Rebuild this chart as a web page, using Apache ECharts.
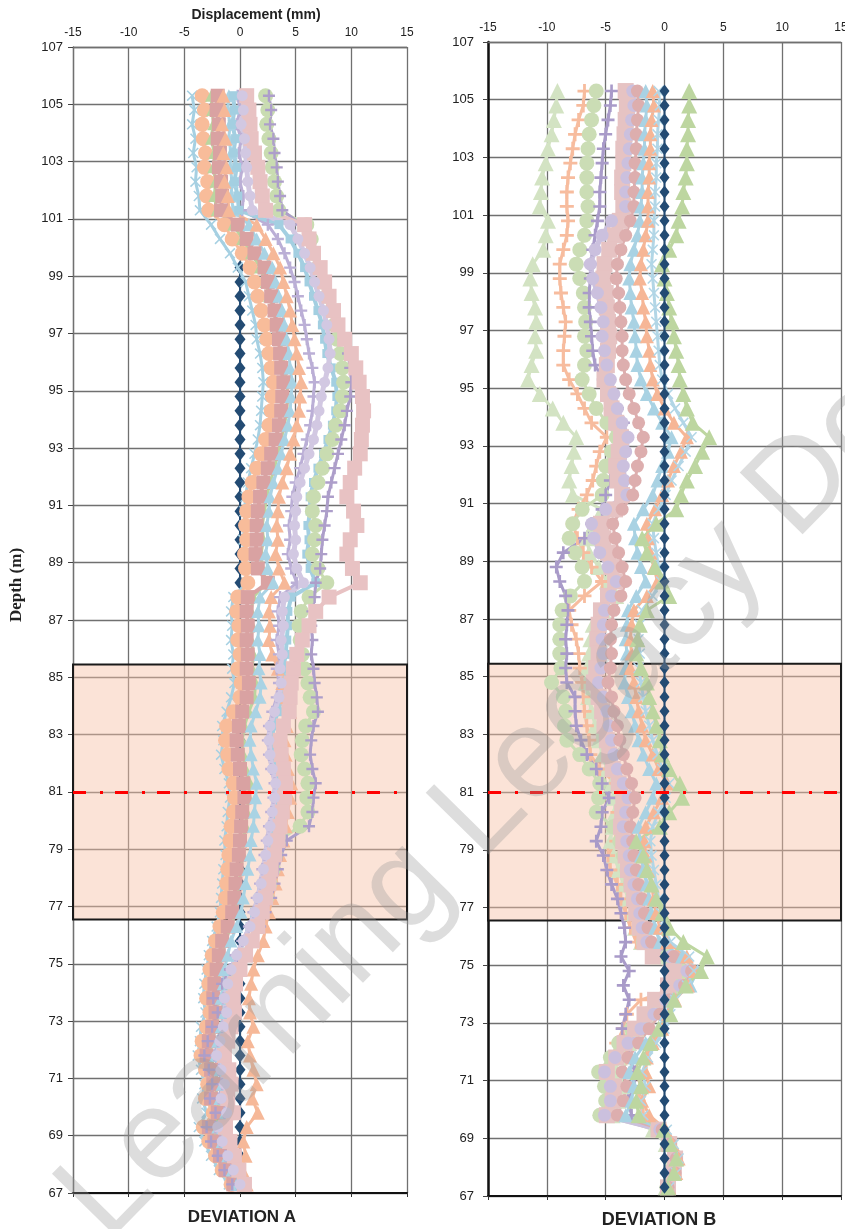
<!DOCTYPE html>
<html>
<head>
<meta charset="utf-8">
<script src="https://cdn.jsdelivr.net/npm/echarts@6/dist/echarts.min.js"></script>
<style>
  html, body { margin: 0; padding: 0; background: #ffffff; }
  #chart { width: 845px; height: 1229px; }
</style>
</head>
<body>
<div id="chart"></div>
<script>
// Survey depths (m), one reading every 0.5 m
const depths = [
  105.3, 104.8, 104.3, 103.8, 103.3, 102.8, 102.3, 101.8, 101.3, 100.8,
  100.3, 99.8, 99.3, 98.8, 98.3, 97.8, 97.3, 96.8, 96.3, 95.8,
  95.3, 94.8, 94.3, 93.8, 93.3, 92.8, 92.3, 91.8, 91.3, 90.8,
  90.3, 89.8, 89.3, 88.8, 88.3, 87.8, 87.3, 86.8, 86.3, 85.8,
  85.3, 84.8, 84.3, 83.8, 83.3, 82.8, 82.3, 81.8, 81.3, 80.8,
  80.3, 79.8, 79.3, 78.8, 78.3, 77.8, 77.3, 76.8, 76.3, 75.8,
  75.3, 74.8, 74.3, 73.8, 73.3, 72.8, 72.3, 71.8, 71.3, 70.8,
  70.3, 69.8, 69.3, 68.8, 68.3, 67.8, 67.3
];

const xTicks = [-15, -10, -5, 0, 5, 10, 15];
const depthTicks = [67, 69, 71, 73, 75, 77, 79, 81, 83, 85, 87, 89, 91, 93, 95, 97, 99, 101, 103, 105, 107];
const zoneTop = 85.45;
const zoneBottom = 76.55;
const targetDepth = 81;

// ---- Deviation A (displacement, mm) ----
const aBase = [
  null, null, null, null, null, null, null, null, null, null,
  null, null, 0, 0, 0, 0, 0, 0, 0, 0,
  0, 0, 0, 0, 0, 0, 0, 0, 0, 0,
  0, 0, 0, 0, 0, 0, 0, 0, 0, 0,
  0, 0, 0, 0, 0, 0, 0, 0, 0, 0,
  0, 0, 0, 0, 0, 0, 0, 0, 0, 0,
  0, 0, 0, 0, 0, 0, 0, 0, 0, 0,
  0, 0, 0, 0, 0, 0, 0
];
const aBlueCross = [
  -4.3, -4.1, -4.3, -4.0, -4.2, -3.9, -4.0, -3.7, -3.6, -2.6,
  -1.8, -0.9, -0.2, 0.5, 0.8, 1.1, 1.4, 1.5, 1.8, 2.0,
  2.1, 2.0, 1.9, 1.8, 1.6, 1.3, 1.0, 0.7, 0.5, 0.4,
  0.4, 0.3, 0.4, 0.5, 0.6, -0.6, -0.8, -0.7, -0.8, -0.6,
  -0.7, -0.5, -0.8, -1.2, -1.6, -1.5, -1.7, -1.4, -1.0, -0.9,
  -1.1, -1.2, -1.4, -1.3, -1.5, -1.6, -1.7, -1.8, -2.1, -2.5,
  -2.8, -3.0, -3.2, -3.3, -3.1, -3.5, -3.6, -3.8, -3.5, -3.2,
  -3.4, -3.0, -3.7, -3.2, -2.6, -1.9, -1.0
];
const aSalmonCircle = [
  -3.4, -3.2, -3.4, -3.3, -3.1, -3.2, -2.9, -3.0, -2.8, -1.4,
  -0.7, 0.2, 0.9, 1.3, 1.6, 1.9, 2.2, 2.4, 2.6, 2.8,
  3.0, 2.9, 2.8, 2.6, 2.3, 1.9, 1.5, 1.1, 0.8, 0.6,
  0.5, 0.6, 0.4, 0.5, 0.7, -0.2, -0.3, -0.1, -0.2, 0.0,
  -0.2, 0.1, 0.0, -0.6, -1.2, -1.3, -1.1, -1.0, -0.6, -0.5,
  -0.6, -0.8, -0.9, -1.0, -1.1, -1.2, -1.3, -1.5, -1.8, -2.2,
  -2.5, -2.7, -2.8, -3.0, -2.7, -3.0, -3.4, -3.5, -3.1, -2.9,
  -3.1, -2.4, -3.3, -2.8, -2.2, -1.6, -0.8
];
const aGreenTri = [
  -2.6, -2.5, -2.4, -2.6, -2.3, -2.4, -2.2, -2.3, -2.1, -0.6,
  0.2, 1.0, 1.8, 2.3, 2.6, 3.0, 3.3, 3.6, 3.8, 4.0,
  4.2, 4.3, 4.2, 4.0, 3.7, 3.4, 3.1, 2.7, 2.4, 2.2,
  2.0, 2.1, 1.9, 2.0, 2.4, 1.2, 1.0, 1.1, 1.0, 1.2,
  1.1, 1.4, 1.3, 0.8, 0.4, 0.2, 0.3, 0.5, 0.9, 0.8,
  0.6, 0.5, 0.3, 0.2, 0.1, -0.1, -0.2, -0.4, -0.8, -1.3,
  -1.6, -1.9, -2.0, -2.2, -1.9, -2.2, -2.5, -2.7, -2.2, -2.0,
  -2.3, -1.6, -2.5, -2.0, -1.5, -1.0, -0.5
];
const aRoseSquare = [
  -2.0, -2.1, -1.9, -2.0, -1.8, -1.9, -1.7, -1.6, -1.7, -0.2,
  0.6, 1.3, 2.2, 2.5, 2.8, 3.1, 3.3, 3.5, 3.6, 3.7,
  3.9, 3.8, 3.7, 3.5, 3.2, 2.8, 2.5, 2.1, 1.8, 1.6,
  1.5, 1.5, 1.4, 1.6, 2.5, 0.7, 0.6, 0.7, 0.6, 0.7,
  0.6, 0.8, 0.6, 0.2, -0.1, -0.3, -0.2, 0.0, 0.3, 0.4,
  0.2, 0.1, 0.0, -0.1, -0.3, -0.4, -0.5, -0.7, -1.1, -1.6,
  -1.9, -2.1, -2.3, -2.4, -2.2, -2.5, -2.8, -3.0, -2.6, -2.4,
  -2.6, -2.0, -2.8, -2.3, -1.8, -1.3, -0.6
];
const aBlueTri = [
  -1.0, -1.1, -0.9, -1.0, -0.8, -0.9, -0.7, -0.8, -0.6, 0.8,
  1.5, 2.2, 2.9, 3.2, 3.5, 3.8, 4.0, 4.2, 4.4, 4.5,
  4.7, 4.6, 4.5, 4.3, 4.0, 3.7, 3.4, 3.0, 2.7, 2.6,
  2.4, 2.5, 2.3, 2.5, 3.0, 1.8, 1.6, 1.7, 1.6, 1.8,
  1.7, 1.9, 1.8, 1.4, 1.0, 0.9, 1.0, 1.2, 1.5, 1.4,
  1.3, 1.2, 1.0, 0.9, 0.7, 0.5, 0.3, 0.1, -0.3, -0.8,
  -1.1, -1.4, -1.5, -1.7, -1.4, -1.7, -2.0, -2.2, -1.8, -1.6,
  -1.8, -1.3, -2.0, -1.6, -1.1, -0.7, -0.3
];
const aSalmonTri = [
  -1.5, -1.4, -1.6, -1.3, -1.5, -1.2, -1.4, -1.1, -1.0, 1.5,
  2.3, 3.0, 3.6, 3.9, 4.2, 4.5, 4.7, 4.9, 5.1, 5.3,
  5.5, 5.4, 5.3, 5.1, 4.8, 4.5, 4.2, 3.8, 3.5, 3.4,
  3.3, 3.4, 3.2, 3.5, 4.0, 2.8, 2.6, 2.7, 2.6, 2.9,
  3.4, 3.8, 4.2, 4.5, 4.2, 4.0, 4.1, 4.3, 4.6, 4.5,
  4.3, 4.1, 3.9, 3.6, 3.4, 3.2, 2.9, 2.6, 2.3, 2.1,
  1.6, 1.2, 1.0, 0.8, 0.9, 1.2, 0.7, 0.9, 1.2, 1.5,
  1.1, 1.6, 0.6, 0.3, 0.5, 0.2, 0.6
];
const aLavenderPlus = [
  -0.2, 0.0, -0.3, 0.1, -0.1, 0.2, 0.0, 0.3, 0.2, 2.5,
  3.4, 4.0, 4.5, 4.9, 5.2, 5.5, 5.8, 6.0, 6.2, 6.5,
  6.7, 6.6, 6.5, 6.3, 6.0, 5.7, 5.4, 5.0, 4.7, 4.6,
  4.4, 4.5, 4.3, 4.6, 5.1, 3.6, 3.4, 3.5, 3.3, 3.5,
  3.3, 3.5, 3.3, 2.9, 2.6, 2.5, 2.6, 2.8, 3.1, 3.0,
  2.8, 2.6, 2.4, 2.2, 2.0, 1.8, 1.5, 1.2, 0.8, 0.2,
  -0.4, -0.9, -1.2, -1.5, -1.3, -1.6, -2.0, -2.3, -1.9, -1.6,
  -1.9, -1.4, -2.2, -1.8, -1.3, -0.8, -0.2
];
const aBlueDash = [
  -0.6, -0.5, -0.7, -0.4, -0.6, -0.3, -0.5, -0.2, -0.1, 3.5,
  4.5, 5.2, 5.8, 6.2, 6.6, 7.0, 7.4, 7.6, 7.8, 8.2,
  8.6, 8.7, 8.6, 8.3, 7.9, 7.5, 7.0, 6.6, 6.3, 6.3,
  6.1, 6.2, 6.0, 6.3, 6.8, 4.6, 4.3, 4.3, 4.2, 4.1,
  3.9, 4.0, 3.8, 3.4, 3.0, 2.9, 3.0, 3.2, 3.5, 3.4,
  3.2, 3.0, 2.7, 2.5, 2.2, 2.0, 1.7, 1.3, 0.9, 0.4,
  -0.2, -0.7, -1.0, -1.2, -1.0, -1.3, -1.6, -1.9, -1.5, -1.2,
  -1.5, -1.0, -1.8, -1.4, -0.9, -0.5, 0.0
];
const aGreenCircle = [
  2.3, 2.5, 2.4, 2.6, 2.8, 2.9, 3.1, 3.3, 3.5, 6.0,
  6.4, 6.6, 7.0, 7.4, 7.8, 8.2, 8.5, 8.7, 9.0, 9.2,
  9.3, 9.2, 9.0, 8.6, 8.3, 7.8, 7.4, 7.0, 6.6, 6.5,
  6.8, 6.7, 6.5, 7.0, 7.8, 6.2, 5.5, 5.3, 5.4, 5.6,
  5.8, 6.1, 6.3, 6.6, 5.9, 5.6, 5.5, 5.8, 6.1, 6.0,
  6.1, 5.4, 3.5, 3.2, 3.0, 2.7, 2.4, 2.0, 1.6, 1.0,
  0.3, -0.3, -0.7, -0.9, -0.7, -1.0, -1.3, -1.6, -1.1, -0.9,
  -1.2, -0.6, -1.5, -1.1, -0.6, -0.2, 0.3
];
const aPurplePlus = [
  2.6, 2.8, 2.7, 3.0, 3.1, 3.3, 3.4, 3.6, 3.8, 5.5,
  6.0, 6.5, 7.2, 7.6, 8.0, 8.4, 8.8, 9.3, 9.7, 9.9,
  10.0, 9.9, 9.6, 9.4, 9.1, 8.8, 8.5, 8.2, 7.9, 7.8,
  7.6, 7.4, 7.3, 7.2, 6.8, 6.7, 6.5, 6.4, 6.5, 6.4,
  6.6, 6.7, 6.9, 7.0, 6.6, 6.4, 6.3, 6.5, 6.8, 6.6,
  6.5, 6.2, 4.2, 3.7, 3.4, 3.1, 2.8, 2.3, 1.8, 1.0,
  0.1, -0.9, -1.6, -2.4, -2.0, -2.5, -2.9, -3.2, -2.8, -2.5,
  -2.7, -2.2, -3.0, -2.6, -2.0, -1.4, -0.7
];
const aPinkSquare = [
  0.6, 0.8, 0.9, 1.0, 1.3, 1.6, 1.8, 2.0, 2.3, 5.8,
  6.2, 6.6, 7.2, 7.6, 8.0, 8.4, 8.8, 9.4, 10.0, 10.4,
  10.7, 11.0, 11.1, 11.0, 10.9, 10.8, 10.3, 9.9, 9.6, 10.2,
  10.5, 9.9, 9.6, 10.1, 10.8, 8.0, 6.8, 6.2, 5.6, 5.1,
  4.8, 4.6, 4.5, 4.4, 3.9, 3.6, 3.7, 3.9, 4.1, 4.0,
  3.8, 3.6, 3.4, 3.1, 2.8, 2.6, 2.3, 2.0, 1.6, 1.1,
  0.5, 0.0, -0.4, -0.6, -0.5, -0.8, -1.1, -1.4, -1.0, -0.8,
  -1.1, -0.6, -1.3, -0.9, -0.5, -0.1, 0.4
];
const aLilac = [
  0.2, 0.3, 0.1, 0.4, 0.5, 0.6, 0.7, 0.9, 1.1, 4.5,
  5.2, 5.8, 6.3, 6.7, 7.1, 7.5, 7.8, 8.0, 8.1, 7.9,
  7.6, 7.3, 7.1, 6.9, 6.6, 6.2, 5.8, 5.4, 5.1, 5.0,
  4.9, 5.0, 4.8, 5.1, 5.7, 4.0, 3.8, 3.9, 3.7, 3.8,
  3.6, 3.7, 3.5, 3.1, 2.7, 2.6, 2.7, 2.9, 3.2, 3.1,
  2.9, 2.7, 2.5, 2.3, 2.1, 1.9, 1.6, 1.3, 0.9, 0.3,
  -0.3, -0.8, -1.1, -1.4, -1.2, -1.5, -1.8, -2.1, -1.7, -1.4,
  -1.7, -1.2, -2.0, -1.6, -1.1, -0.6, 0.0
];

// ---- Deviation B (displacement, mm) ----
const bBase = [
  0, 0, 0, 0, 0, 0, 0, 0, 0, 0,
  0, 0, 0, 0, 0, 0, 0, 0, 0, 0,
  0, 0, 0, 0, 0, 0, 0, 0, 0, 0,
  0, 0, 0, 0, 0, 0, 0, 0, 0, 0,
  0, 0, 0, 0, 0, 0, 0, 0, 0, 0,
  0, 0, 0, 0, 0, 0, 0, 0, 0, 0,
  0, 0, 0, 0, 0, 0, 0, 0, 0, 0,
  0, 0, 0, 0, 0, 0, 0
];
const bPaleTri = [
  -9.1, -9.2, -9.4, -9.6, -9.9, -10.1, -10.4, -10.5, -10.6, -9.9,
  -10.1, -10.3, -11.2, -11.4, -11.3, -11.0, -10.9, -11.0, -10.9, -11.3,
  -11.6, -10.6, -9.5, -8.6, -7.5, -7.7, -7.9, -8.1, -7.8, -5.3,
  -6.0, -6.6, -6.4, -5.6, -4.9, -4.1, -5.2, -6.1, -6.3, -6.4,
  -6.6, -6.7, -6.5, -6.2, -5.9, -5.6, -5.3, -4.9, -4.5, -4.3,
  -4.2, -4.4, -4.6, -4.3, -3.9, -3.5, -3.1, -2.8, -2.5, -2.0,
  -0.5, 1.2, 0.5, -0.9, -1.6, -2.4, -3.0, -3.8, -4.2, -3.6,
  -3.9, -4.4, -1.0, 0.1, 0.6, 0.5, 0.1
];
const bSalmonPlus = [
  -6.8, -6.9, -7.3, -7.6, -7.8, -8.0, -8.2, -8.3, -8.3, -8.2,
  -8.3, -8.6, -8.9, -8.9, -8.8, -8.6, -8.4, -8.5, -8.6, -8.6,
  -8.1, -7.4, -6.8, -6.2, -4.9, -5.5, -5.8, -6.1, -6.6, -7.3,
  -7.8, -7.4, -6.9, -6.2, -5.3, -6.8, -8.1, -7.9, -7.5, -7.3,
  -7.2, -7.0, -6.9, -6.8, -6.6, -6.4, -6.3, -5.5, -4.1, -3.6,
  -4.0, -4.2, -4.1, -4.8, -4.6, -4.0, -3.7, -3.3, -2.9, -2.4,
  1.0, 2.2, 1.6, -2.0, -3.2, -3.5, -4.1, -3.2, -2.4, -2.0,
  -2.2, -1.8, -0.4, 0.4, 0.9, 0.7, 0.2
];
const bGreenCircle = [
  -5.8, -6.0, -6.2, -6.4, -6.5, -6.6, -6.6, -6.6, -6.5, -6.6,
  -6.8, -7.2, -7.5, -7.2, -6.9, -6.8, -6.7, -6.8, -6.6, -6.8,
  -7.0, -6.4, -5.8, -4.9, -4.1, -4.5, -5.0, -5.2, -5.3, -7.0,
  -7.8, -8.1, -7.6, -7.0, -6.8, -8.0, -8.7, -8.9, -8.9, -8.9,
  -8.8, -9.6, -8.6, -8.4, -8.5, -8.3, -7.2, -6.4, -5.5, -5.6,
  -5.8, -4.4, -3.8, -3.5, -3.2, -2.9, -2.6, -2.4, -2.1, -1.8,
  0.2, 1.5, 0.9, -0.5, -1.5, -2.8, -3.9, -4.6, -5.6, -5.1,
  -5.0, -5.5, -0.6, 0.3, 0.8, 0.6, 0.2
];
const bPurplePlus = [
  -4.5, -4.6, -4.8, -5.0, -5.2, -5.3, -5.4, -5.5, -5.5, -5.7,
  -5.9, -6.1, -6.3, -6.3, -6.4, -6.4, -6.3, -6.2, -6.1, -5.9,
  -5.2, -4.6, -4.0, -3.5, -3.2, -3.8, -4.1, -4.6, -5.0, -5.3,
  -6.2, -6.8, -8.6, -9.2, -8.9, -8.4, -8.2, -8.3, -8.4, -8.3,
  -8.4, -8.3, -7.6, -7.6, -7.5, -7.1, -6.6, -5.8, -5.3, -4.7,
  -5.3, -5.4, -5.8, -5.2, -4.9, -4.5, -4.0, -3.7, -3.4, -3.3,
  -3.7, -3.0, -3.5, -3.0, -3.3, -3.6, -3.4, -3.0, -2.5, -2.6,
  -3.1, -2.8, -0.3, 0.4, 0.9, 0.7, 0.2
];
const bPinkSquare = [
  -3.3, -3.2, -3.3, -3.4, -3.5, -3.5, -3.6, -3.6, -3.5, -3.8,
  -4.2, -4.7, -5.1, -5.2, -5.0, -4.9, -4.8, -4.7, -4.8, -4.9,
  -5.1, -4.8, -4.5, -4.1, -3.7, -3.9, -4.1, -4.0, -3.6, -4.2,
  -5.4, -5.2, -4.8, -4.5, -4.2, -4.8, -5.4, -5.6, -5.7, -5.6,
  -5.8, -6.0, -5.6, -5.3, -5.1, -4.9, -4.7, -4.4, -3.9, -3.5,
  -3.6, -3.7, -3.5, -3.3, -3.1, -2.8, -2.6, -2.4, -2.1, -1.7,
  -1.0, 0.8, 0.3, -0.8, -1.7, -2.5, -3.4, -4.1, -4.9, -4.3,
  -4.4, -4.9, -0.5, 0.4, 0.9, 0.8, 0.3
];
const bLilac = [
  -2.7, -2.6, -2.8, -2.9, -3.0, -3.1, -3.2, -3.3, -3.3, -4.5,
  -5.3, -5.9, -6.3, -6.1, -5.7, -5.4, -5.2, -5.3, -5.1, -4.9,
  -4.6, -4.3, -4.0, -3.6, -3.1, -3.3, -3.5, -3.4, -3.2, -5.0,
  -6.2, -6.0, -5.5, -4.8, -4.1, -4.5, -5.1, -5.2, -5.3, -5.2,
  -5.4, -5.6, -5.2, -4.9, -4.7, -4.5, -4.3, -4.0, -3.5, -3.1,
  -3.3, -3.5, -3.2, -3.0, -2.9, -2.6, -2.3, -2.1, -1.9, -1.5,
  0.5, 1.9, 1.3, 0.1, -0.9, -2.0, -3.1, -4.2, -5.1, -4.6,
  -4.6, -5.1, -0.4, 0.5, 1.0, 0.8, 0.3
];
const bRoseCircle = [
  -2.3, -2.2, -2.3, -2.4, -2.4, -2.5, -2.5, -2.6, -2.6, -2.9,
  -3.3, -3.7, -4.0, -4.1, -3.9, -3.8, -3.7, -3.6, -3.6, -3.5,
  -3.3, -3.0, -2.6, -2.2, -1.8, -2.0, -2.3, -2.5, -2.7, -3.6,
  -4.4, -4.2, -3.9, -3.6, -3.3, -3.7, -4.3, -4.5, -4.6, -4.5,
  -4.6, -4.8, -4.5, -4.3, -4.0, -3.8, -3.5, -3.2, -2.8, -2.5,
  -2.7, -2.9, -2.7, -2.6, -2.4, -2.2, -1.9, -1.7, -1.4, -1.1,
  0.8, 2.3, 1.7, 0.4, -0.4, -1.3, -2.2, -3.1, -3.6, -3.2,
  -3.5, -4.0, -0.2, 0.5, 1.0, 0.9, 0.3
];
const bBlueTri = [
  -1.6, -1.5, -1.6, -1.7, -1.7, -1.8, -1.9, -1.9, -2.0, -2.1,
  -2.3, -2.6, -2.9, -3.0, -2.9, -2.8, -2.6, -2.5, -2.4, -2.3,
  -2.0, -1.5, -0.9, -0.2, 0.6, 0.3, -0.2, -0.6, -1.0, -1.8,
  -2.6, -2.5, -2.3, -2.0, -1.6, -2.4, -3.1, -3.2, -3.3, -3.2,
  -3.3, -3.4, -3.1, -2.8, -2.5, -2.2, -1.8, -1.3, -0.7, -1.0,
  -1.6, -2.2, -2.1, -2.0, -1.8, -1.5, -1.3, -1.1, -0.8, -0.4,
  1.5, 2.8, 2.2, 0.7, 0.1, -0.5, -1.6, -2.5, -3.0, -2.6,
  -2.8, -3.3, 0.0, 0.6, 1.1, 0.9, 0.4
];
const bSalmonTri = [
  -1.0, -0.9, -1.1, -1.2, -1.2, -1.3, -1.3, -1.4, -1.4, -1.4,
  -1.6, -1.8, -2.0, -2.1, -1.9, -1.8, -1.6, -1.5, -1.3, -1.2,
  -1.0, -0.6, 0.0, 0.8, 1.9, 1.4, 0.8, 0.3, -0.2, -0.8,
  -1.5, -1.4, -1.2, -0.9, -0.6, -1.5, -2.6, -2.8, -2.9, -2.8,
  -2.9, -2.6, -2.4, -2.2, -1.9, -1.6, -1.0, -0.5, 0.2, -0.2,
  -0.9, -1.6, -1.7, -1.6, -1.4, -1.1, -0.9, -0.7, -0.4, 0.2,
  1.9, 2.6, 2.0, 0.9, 0.3, -0.2, -1.0, -1.5, -1.6, -1.3,
  -1.9, -1.3, 0.1, 0.7, 1.2, 1.0, 0.4
];
const bBlueCross = [
  -0.5, -0.4, -0.5, -0.6, -0.6, -0.7, -0.7, -0.8, -0.8, -0.9,
  -0.9, -1.0, -1.1, -1.0, -0.9, -0.8, -0.7, -0.6, -0.5, -0.4,
  -0.2, 0.3, 0.9, 1.6, 2.3, 1.8, 1.2, 0.6, 0.1, -0.5,
  -1.0, -0.9, -0.7, -0.5, -0.3, -1.0, -1.9, -2.1, -2.2, -2.1,
  -2.2, -2.0, -1.8, -1.6, -1.3, -1.0, -0.6, -0.2, 0.4, 0.1,
  -0.5, -1.0, -1.2, -1.1, -0.9, -0.7, -0.5, -0.3, 0.0, 0.5,
  2.1, 2.5, 1.9, 0.9, 0.5, 0.0, -0.7, -1.4, -1.9, -1.6,
  -2.0, -1.8, 0.2, 0.8, 1.2, 1.0, 0.4
];
const bGreenTri = [
  2.1, 2.1, 2.0, 2.0, 1.9, 1.9, 1.8, 1.6, 1.5, 1.2,
  1.0, 0.4, -0.2, 0.0, 0.2, 0.4, 0.6, 0.8, 1.0, 1.2,
  1.3, 1.6, 1.9, 2.4, 3.8, 3.2, 2.6, 1.9, 1.4, 1.0,
  -0.7, -1.9, -1.5, -0.8, -0.2, 0.4, -1.5, -2.1, -2.3, -2.4,
  -2.0, -1.5, -1.3, -1.0, -0.7, -0.4, -0.2, 0.4, 1.3, 1.5,
  0.4, -0.4, -2.4, -1.8, -1.5, -1.1, -0.7, -0.2, 0.4, 1.6,
  3.6, 3.1, 1.8, 0.8, 0.5, -0.5, -1.2, -1.8, -2.3, -2.0,
  -2.4, -2.2, -0.1, 0.5, 1.0, 0.8, 0.3
];

// Marker shapes
const SYM_PLUS = 'path://M4,0H6V4H10V6H6V10H4V6H0V4H4Z';
const SYM_CROSS = 'path://M1,0L5,4L9,0L10,1L6,5L10,9L9,10L5,6L1,10L0,9L4,5L0,1Z';
const SYM_DASH = 'path://M0,0H10V3H0Z';

function toPoints(xs) {
  const pts = [];
  xs.forEach((x, i) => { if (x !== null) pts.push([x, depths[i]]); });
  return pts;
}

function profile(name, xs, panel, color, symbol, size, width, z) {
  return {
    type: 'line',
    name: name,
    xAxisIndex: panel === 0 ? 0 : 2,
    yAxisIndex: panel,
    data: toPoints(xs),
    symbol: symbol,
    symbolSize: size,
    showSymbol: true,
    lineStyle: { color: color, width: width },
    itemStyle: { color: color, borderWidth: 0 },
    emphasis: { disabled: true },
    z: z,
    silent: true
  };
}

const gridLine = '#707070';
const labelFont = 'Liberation Sans, Arial, sans-serif';

function topAxis(grid, margin) {
  return {
    type: 'value', gridIndex: grid, position: 'top', min: -15, max: 15, interval: 5,
    axisLine: { show: true, onZero: false, lineStyle: { color: gridLine, width: 1.3 } },
    axisTick: { show: false },
    axisLabel: { show: true, margin: margin, fontSize: 12, color: '#222', fontFamily: labelFont },
    splitLine: { show: true, lineStyle: { color: gridLine, width: 1.3 } }
  };
}
function bottomAxis(grid) {
  return {
    type: 'value', gridIndex: grid, position: 'bottom', min: -15, max: 15, interval: 5,
    axisLine: { show: true, onZero: false, lineStyle: { color: '#111', width: 2 } },
    axisTick: { show: true, length: 4, lineStyle: { color: '#333', width: 1 } },
    axisLabel: { show: false },
    splitLine: { show: false }
  };
}
function depthAxis(grid, lineColor, lineWidth, margin) {
  return {
    type: 'value', gridIndex: grid, min: 67, max: 107, interval: 2,
    axisLine: { show: true, onZero: false, lineStyle: { color: lineColor, width: lineWidth } },
    axisTick: { show: true, length: 5, lineStyle: { color: '#444', width: 1 } },
    axisLabel: { show: true, margin: margin, fontSize: 13, color: '#222', fontFamily: labelFont },
    splitLine: { show: true, lineStyle: { color: gridLine, width: 1.3 } }
  };
}

function zoneSeries(panel) {
  return {
    type: 'line', xAxisIndex: panel === 0 ? 0 : 2, yAxisIndex: panel, data: [], z: 1, silent: true,
    markArea: {
      silent: true,
      itemStyle: { color: 'rgba(247,194,166,0.45)', borderColor: '#1a1a1a', borderWidth: 2 },
      data: [[{ yAxis: zoneTop }, { yAxis: zoneBottom }]]
    }
  };
}
function targetSeries(panel) {
  return {
    type: 'line', xAxisIndex: panel === 0 ? 0 : 2, yAxisIndex: panel, data: [], z: 30, silent: true,
    markLine: {
      silent: true, symbol: ['none', 'none'], label: { show: false },
      lineStyle: { color: '#ff0000', width: 3, type: [13, 14, 3, 12] },
      data: [{ yAxis: targetDepth }]
    }
  };
}

const series = [
  zoneSeries(0),
  profile('A0', aBase, 0, '#234b73', 'diamond', [11, 14], 2, 2),
  profile('A1', aBlueCross, 0, '#a6d0e2', SYM_CROSS, 11, 3, 3),
  profile('A2', aSalmonCircle, 0, '#f8bc9a', 'circle', 15, 3, 3),
  profile('A3', aGreenTri, 0, '#bbd59f', 'triangle', 12, 3, 3),
  profile('A4', aRoseSquare, 0, '#d9a2a2', 'rect', 14, 4, 3),
  profile('A5', aBlueTri, 0, '#a9d3e4', 'triangle', 13, 3, 3),
  profile('A6', aSalmonTri, 0, '#f6b898', 'triangle', 14, 3, 3),
  profile('A7', aLavenderPlus, 0, '#bbafd6', SYM_PLUS, 12, 3, 3),
  profile('A8', aBlueDash, 0, '#a3cfe1', SYM_DASH, 9, 4, 3),
  profile('A9', aGreenCircle, 0, '#c9dcb1', 'circle', 15, 3, 3),
  profile('A10', aPurplePlus, 0, '#ad9eca', SYM_PLUS, 12, 3, 3),
  profile('A11', aPinkSquare, 0, '#e8c2c3', 'rect', 15, 4, 3),
  profile('A12', aLilac, 0, '#d2c8e2', 'circle', 11, 5, 3),
  targetSeries(0),

  zoneSeries(1),
  profile('B1', bPaleTri, 1, '#d3e3c3', 'triangle', 16, 3, 3),
  profile('B2', bSalmonPlus, 1, '#f7bc9e', SYM_PLUS, 14, 3, 3),
  profile('B3', bGreenCircle, 1, '#cbddb5', 'circle', 15, 3, 3),
  profile('B4', bPurplePlus, 1, '#a99bc9', SYM_PLUS, 13, 3, 3),
  profile('B5', bPinkSquare, 1, '#e6c3c3', 'rect', 16, 4, 3),
  profile('B6', bLilac, 1, '#cbc0de', 'circle', 13, 5, 3),
  profile('B7', bRoseCircle, 1, '#ddaeae', 'circle', 13, 3, 3),
  profile('B8', bBlueTri, 1, '#a9d2e3', 'triangle', 14, 3, 3),
  profile('B9', bSalmonTri, 1, '#f6b696', 'triangle', 14, 3, 3),
  profile('B10', bBlueCross, 1, '#b2d6e6', SYM_CROSS, 11, 3, 3),
  profile('B11', bGreenTri, 1, '#bdd6a0', 'triangle', 16, 3, 3),
  profile('B0', bBase, 1, '#234b73', 'diamond', [10, 13], 2, 4),
  targetSeries(1)
];

const chart = echarts.init(document.getElementById('chart'), null, { renderer: 'canvas' });
chart.setOption({
  animation: false,
  backgroundColor: '#ffffff',
  grid: [
    { left: 73, top: 47, width: 334, height: 1146, containLabel: false, outerBoundsMode: 'none' },
    { left: 488, top: 42, width: 353, height: 1154, containLabel: false, outerBoundsMode: 'none' }
  ],
  xAxis: [topAxis(0, 8), bottomAxis(0), topAxis(1, 8), bottomAxis(1)],
  yAxis: [depthAxis(0, gridLine, 1.3, 10), depthAxis(1, '#111', 2.5, 14)],
  series: series,
  graphic: [
    { type: 'text', x: 256, y: 15, z: 50, silent: true,
      style: { text: 'Displacement (mm)', fontSize: 14, fontWeight: 'bold', fontFamily: labelFont, fill: '#222', align: 'center', verticalAlign: 'middle' } },
    { type: 'text', x: 17, y: 585, rotation: Math.PI / 2, z: 50, silent: true,
      style: { text: 'Depth (m)', fontSize: 17, fontWeight: 'bold', fontFamily: 'Liberation Serif, Times New Roman, serif', fill: '#222', align: 'center', verticalAlign: 'middle' } },
    { type: 'text', x: 242, y: 1217, z: 50, silent: true,
      style: { text: 'DEVIATION A', fontSize: 17, fontWeight: 'bold', fontFamily: labelFont, fill: '#222', align: 'center', verticalAlign: 'middle' } },
    { type: 'text', x: 659, y: 1220, z: 50, silent: true,
      style: { text: 'DEVIATION B', fontSize: 18, fontWeight: 'bold', fontFamily: labelFont, fill: '#222', align: 'center', verticalAlign: 'middle' } },
    { type: 'text', x: 128, y: 1263, rotation: 0.795, z: 60, silent: true,
      style: { text: 'Learning Legacy Document', fontSize: 128, fontFamily: labelFont, fill: 'rgba(150,150,150,0.32)', align: 'left', verticalAlign: 'bottom' } }
  ]
});
</script>
</body>
</html>
